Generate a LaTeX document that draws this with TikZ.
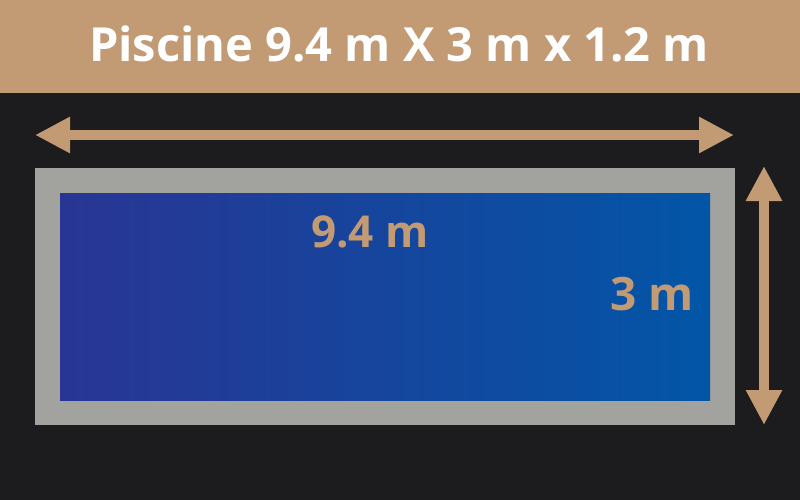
\documentclass[tikz,border=0pt]{standalone}
\usepackage{fontspec}
\setmainfont{Open Sans}
\usepackage{tikz}
\usetikzlibrary{arrows.meta}
\definecolor{bgdark}{HTML}{1C1B1D}
\definecolor{sand}{HTML}{C29A73}
\definecolor{rim}{HTML}{A2A39E}
\definecolor{deepwater}{HTML}{293593}
\definecolor{lightwater}{HTML}{0256A7}
\tikzset{
  dimarrow/.style={sand,line width=10pt,line cap=butt,
    {Triangle[length=35pt,width=34pt]}-{Triangle[length=35pt,width=34pt]}},
  dimlabel/.style={sand,font=\bfseries\fontsize{44}{44}\selectfont,inner sep=0pt,anchor=base}
}

\begin{document}
\begin{tikzpicture}[x=1pt,y=-1pt]
  \useasboundingbox (0,0) rectangle (800,500);
  \fill[bgdark] (0,0) rectangle (800,500);

  %title banner
  \fill[sand] (0,0) rectangle (800,93);
  \node[white,font=\bfseries\fontsize{47}{47}\selectfont,inner sep=0pt,anchor=base]
    (title) at (399,62) {Piscine 9.4 m X 3 m x 1.2 m};

  %pool rim and water
  \fill[rim] (35,168) rectangle (735,425);
  \shade[left color=deepwater,right color=lightwater] (60,193) rectangle (710,400);

  \node[dimlabel] (length) at (370,247) {9.4 m};
  \node[dimlabel,font=\bfseries\fontsize{46}{46}\selectfont] (width) at (652,310) {3 m};

  %dimension arrows
  \coordinate (lenleft) at (35,135);
  \coordinate (lenright) at (734,135);
  \coordinate (widtop) at (764,166);
  \coordinate (widbot) at (764,425);
  \draw[dimarrow] (lenleft) -- (lenright);
  \draw[dimarrow] (widtop) -- (widbot);
\end{tikzpicture}
\end{document}
